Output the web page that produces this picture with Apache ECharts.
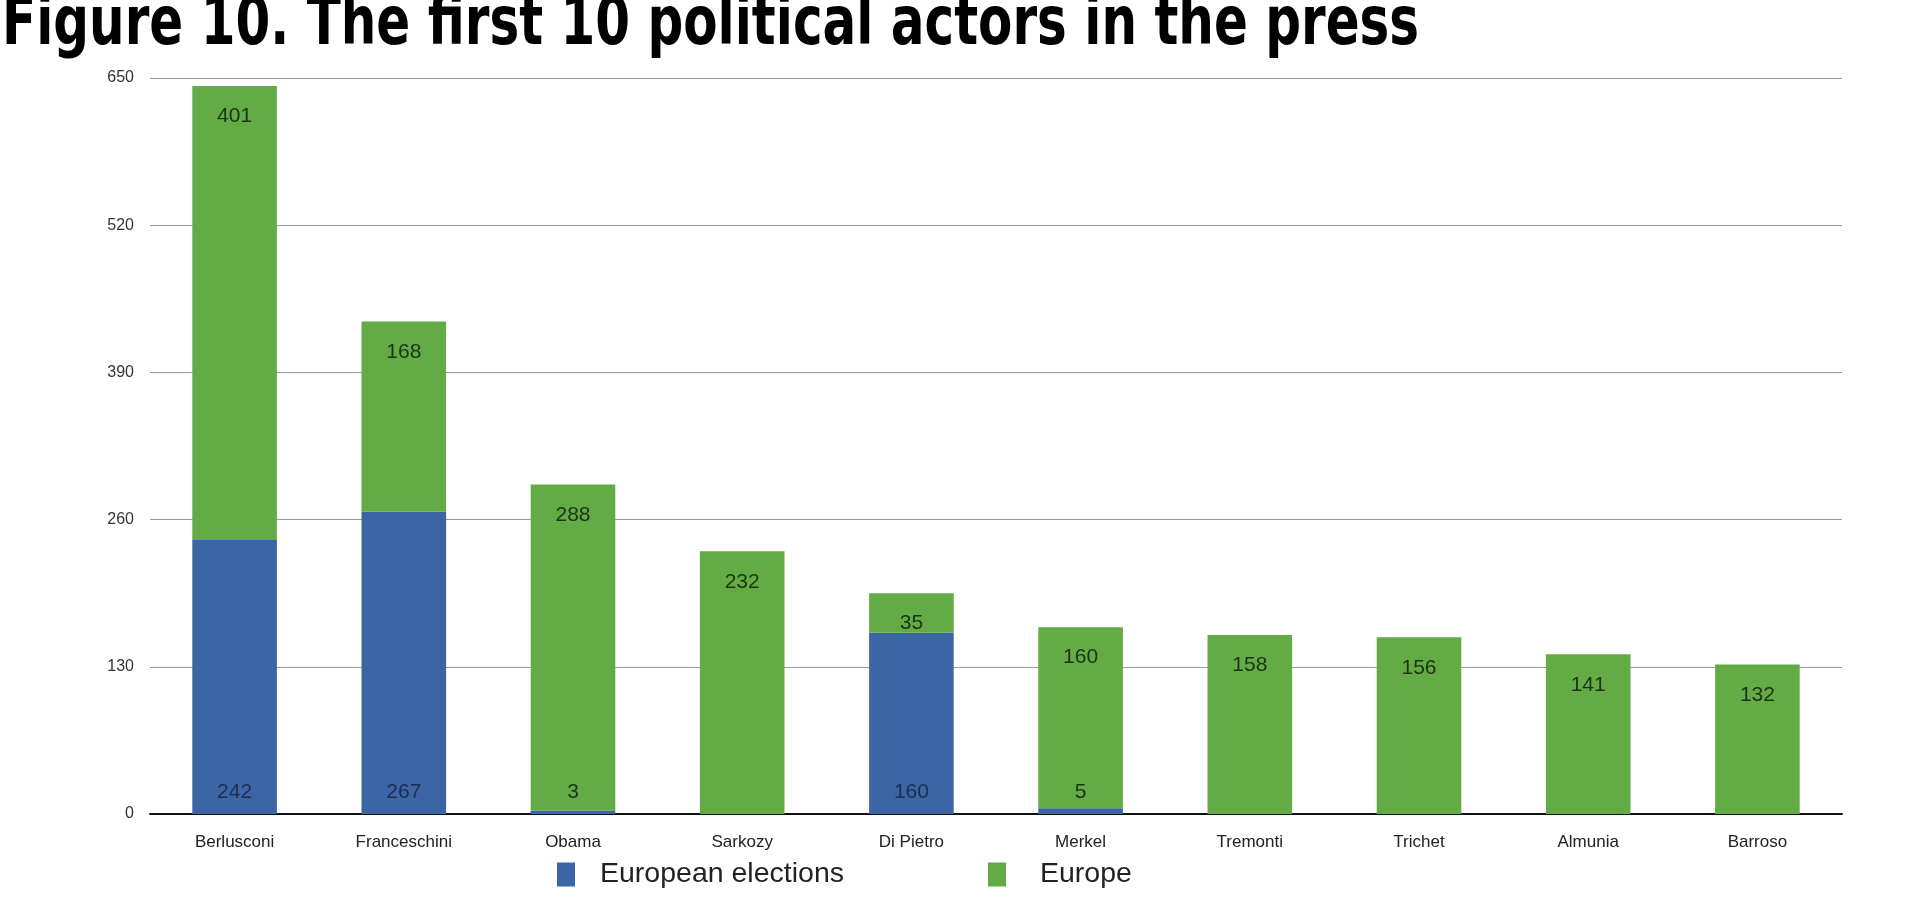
<!DOCTYPE html>
<html>
<head>
<meta charset="utf-8">
<script src="https://cdn.jsdelivr.net/npm/echarts@6/dist/echarts.min.js"></script>
<style>
html,body{margin:0;padding:0;background:#fff;}
#chart{width:1919px;height:902px;}
</style>
</head>
<body>
<div id="chart"></div>
<script>
const titleText = 'Figure 10. The first 10 political actors in the press';
const categories = ['Berlusconi','Franceschini','Obama','Sarkozy','Di Pietro','Merkel','Tremonti','Trichet','Almunia','Barroso'];
const seriesNames = ['European elections','Europe'];
const electionsValues = [242, 267, 3, 0, 160, 5, 0, 0, 0, 0];
const europeValues = [401, 168, 288, 232, 35, 160, 158, 156, 141, 132];
const yTicks = [0, 130, 260, 390, 520, 650];

const BLUE = '#3b65a5';
const GREEN = '#63ab45';
const LABEL_FONT = 'Liberation Sans, Arial, sans-serif';

const chart = echarts.init(document.getElementById('chart'));

const electionsData = electionsValues.map(function (v) {
  return {
    value: v,
    label: {
      show: v > 0,
      color: v < 20 ? '#1d3314' : '#1f2d50'
    }
  };
});

chart.setOption({
  animation: false,
  backgroundColor: '#ffffff',
  graphic: [{
    type: 'text',
    x: 2,
    y: 60,
    scaleX: 1,
    scaleY: 1.35,
    originX: 0,
    originY: 0,
    style: {
      text: titleText,
      font: 'bold 50px "DejaVu Sans"',
      fill: '#000',
      align: 'left',
      verticalAlign: 'bottom',
      textVerticalAlign: 'bottom'
    }
  }],
  grid: { left: 150, right: 77, top: 78, bottom: 88 },
  legend: {
    data: [
      { name: seriesNames[0], textStyle: { padding: [0, 0, 0, 20] } },
      { name: seriesNames[1], textStyle: { padding: [0, 0, 0, 29] } }
    ],
    bottom: 8,
    left: 552,
    itemGap: 144,
    itemWidth: 18,
    itemHeight: 24,
    icon: 'rect',
    textStyle: { fontFamily: LABEL_FONT, fontSize: 28.5, color: '#222' }
  },
  xAxis: {
    type: 'category',
    data: categories,
    axisLine: { lineStyle: { color: '#111', width: 2 } },
    axisTick: { show: false },
    axisLabel: { fontFamily: LABEL_FONT, fontSize: 17, color: '#222', margin: 20 }
  },
  yAxis: {
    type: 'value',
    min: yTicks[0],
    max: yTicks[yTicks.length - 1],
    interval: yTicks[1] - yTicks[0],
    axisLine: { show: false },
    axisTick: { show: false },
    axisLabel: { fontFamily: LABEL_FONT, fontSize: 16, color: '#333', margin: 16 },
    splitLine: { lineStyle: { color: '#9a9a9a', width: 1 } }
  },
  series: [
    {
      name: seriesNames[0],
      type: 'bar',
      stack: 'total',
      barWidth: '50%',
      itemStyle: { color: BLUE },
      data: electionsData,
      label: {
        show: true,
        position: 'insideBottom',
        distance: 11,
        fontFamily: LABEL_FONT,
        fontSize: 21,
        color: '#1f2d50'
      }
    },
    {
      name: seriesNames[1],
      type: 'bar',
      stack: 'total',
      barWidth: '50%',
      itemStyle: { color: GREEN },
      data: europeValues,
      label: {
        show: true,
        position: 'insideTop',
        distance: 20,
        fontFamily: LABEL_FONT,
        fontSize: 21,
        color: '#1d3314'
      }
    }
  ]
});
</script>
</body>
</html>
